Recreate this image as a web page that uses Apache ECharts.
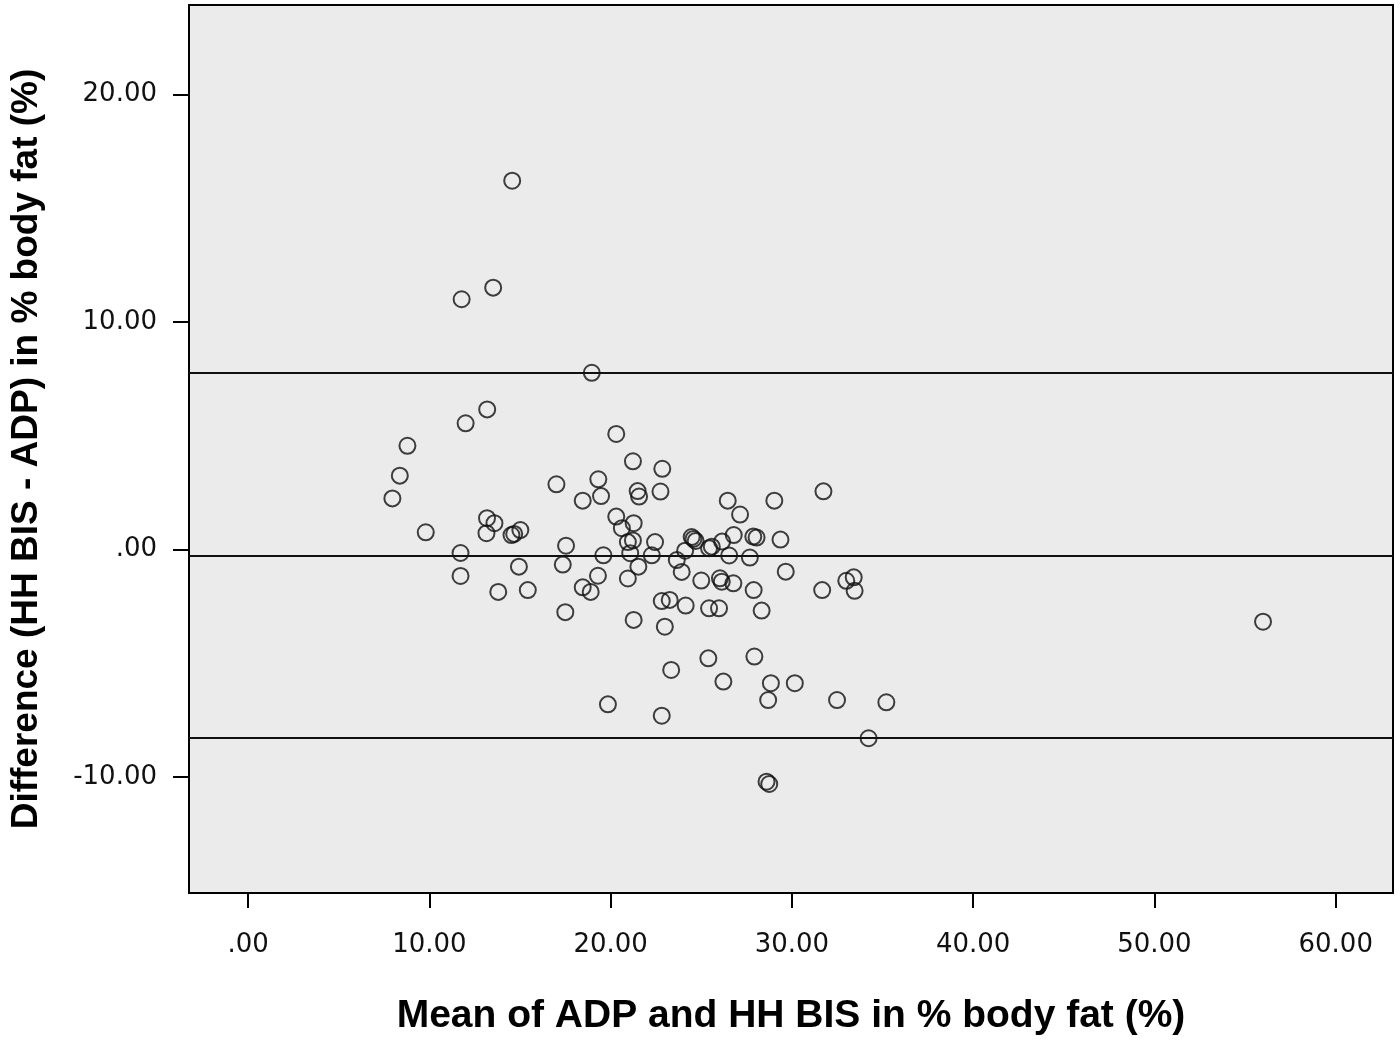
<!DOCTYPE html>
<html>
<head>
<meta charset="utf-8">
<script src="https://cdn.jsdelivr.net/npm/echarts@6/dist/echarts.min.js"></script>
<style>
html,body{margin:0;padding:0;background:#fff;}
#chart{width:1400px;height:1042px;}
</style>
</head>
<body>
<div id="chart"></div>
<script>
// Mean of ADP and HH BIS (% body fat)
const xMean = [
  14.57, 11.78, 13.52, 18.96, 13.19, 12.00, 8.79, 8.37, 7.96, 9.80,
  13.18, 13.59, 13.15, 14.53, 14.68, 15.02, 11.72, 11.72, 14.94, 13.80,
  15.43, 17.01, 17.54, 17.36, 17.50, 18.46, 19.32, 19.47, 20.31, 21.23,
  22.85, 21.49, 21.57, 22.75, 20.31, 20.62, 21.27, 20.95, 21.23, 22.45,
  19.60, 21.08, 22.27, 21.53, 19.30, 20.95, 18.46, 18.90, 22.82, 23.26,
  21.27, 22.99, 24.57, 24.69, 24.47, 24.11, 23.65, 23.92, 25.43, 25.58,
  26.15, 26.46, 27.14, 26.79, 26.54, 27.68, 27.87, 28.05, 29.03, 29.37,
  29.66, 31.74, 25.00, 26.03, 26.13, 26.77, 27.89, 24.14, 25.43, 25.98,
  28.33, 31.67, 33.00, 33.41, 33.46, 25.39, 27.93, 23.34, 26.22, 28.84,
  30.16, 28.69, 32.49, 35.21, 19.85, 22.82, 34.23, 28.60, 28.75, 55.99
];
// Difference (HH BIS - ADP) in % body fat
const yDiff = [
  16.21, 11.00, 11.51, 7.77, 6.16, 5.55, 4.56, 3.25, 2.25, 0.76,
  1.38, 1.16, 0.72, 0.64, 0.69, 0.86, -0.15, -1.16, -0.75, -1.86,
  -1.78, 2.87, 0.17, -0.66, -2.75, 2.15, 3.09, 2.35, 5.08, 3.88,
  3.55, 2.57, 2.33, 2.55, 1.45, 0.94, 1.16, 0.33, 0.40, 0.33,
  -0.25, -0.16, -0.25, -0.75, -1.15, -1.27, -1.66, -1.86, -2.26, -2.21,
  -3.09, -3.39, 0.47, 0.38, 0.55, -0.05, -0.46, -0.98, 0.06, 0.13,
  0.35, 2.15, 1.54, 0.64, -0.26, -0.35, 0.57, 0.53, 2.15, 0.44,
  -0.97, 2.56, -1.36, -1.26, -1.41, -1.48, -1.78, -2.46, -2.58, -2.58,
  -2.68, -1.78, -1.37, -1.22, -1.81, -4.78, -4.70, -5.29, -5.80, -5.87,
  -5.87, -6.61, -6.61, -6.71, -6.80, -7.30, -8.29, -10.20, -10.30, -3.17
];
// Bland-Altman reference lines: upper LoA, mean difference, lower LoA
const refLines = [7.78, -0.25, -8.28];

const xTickValues = [0, 10, 20, 30, 40, 50, 60];
const xTickLabels = ['.00', '10.00', '20.00', '30.00', '40.00', '50.00', '60.00'];
const yTickValues = [-10, 0, 10, 20];
const yTickLabels = ['-10.00', '.00', '10.00', '20.00'];

const xTitle = 'Mean of ADP and HH BIS in % body fat (%)';
const yTitle = 'Difference (HH BIS - ADP) in % body fat (%)';

const points = xMean.map((x, i) => [x, yDiff[i]]);

const chart = echarts.init(document.getElementById('chart'), null, {renderer: 'canvas'});
const tickFont = {fontFamily: 'DejaVu Sans', fontSize: 26, color: '#111'};

chart.setOption({
  animation: false,
  backgroundColor: '#ffffff',
  grid: {
    left: 186, right: 7, top: 5, bottom: 149,
    show: true,
    backgroundColor: '#ebebeb',
    borderColor: '#000',
    borderWidth: 2
  },
  xAxis: {
    type: 'value',
    min: -3.26, max: 63.16,
    name: xTitle,
    nameLocation: 'middle',
    nameGap: 104,
    nameTextStyle: {fontFamily: 'Liberation Sans', fontWeight: 'bold', fontSize: 39, color: '#000'},
    axisLine: {show: true, onZero: false, lineStyle: {color: '#000', width: 2}},
    axisTick: {show: true, inside: false, length: 15, lineStyle: {color: '#000', width: 2}, customValues: xTickValues},
    axisLabel: Object.assign({margin: 39, customValues: xTickValues,
      formatter: v => xTickLabels[xTickValues.indexOf(Math.round(v))] || ''}, tickFont),
    splitLine: {show: false}
  },
  yAxis: {
    type: 'value',
    min: -15.09, max: 23.93,
    name: yTitle,
    nameLocation: 'middle',
    nameGap: 144,
    nameTextStyle: {fontFamily: 'Liberation Sans', fontWeight: 'bold', fontSize: 37, color: '#000'},
    axisLine: {show: true, onZero: false, lineStyle: {color: '#000', width: 2}},
    axisTick: {show: true, inside: false, length: 16, lineStyle: {color: '#000', width: 2}, customValues: yTickValues},
    axisLabel: Object.assign({margin: 32, customValues: yTickValues,
      formatter: v => yTickLabels[yTickValues.indexOf(Math.round(v))] || ''}, tickFont),
    splitLine: {show: false}
  },
  series: [{
    type: 'scatter',
    data: points,
    symbol: 'circle',
    symbolSize: 16,
    itemStyle: {color: 'rgba(0,0,0,0)', borderColor: '#111', borderWidth: 2},
    emphasis: {disabled: true},
    z: 3,
    markLine: {
      silent: true,
      symbol: ['none', 'none'],
      label: {show: false},
      lineStyle: {type: 'solid', color: '#111', width: 2},
      data: refLines.map(v => ({yAxis: v}))
    }
  }]
});
</script>
</body>
</html>
